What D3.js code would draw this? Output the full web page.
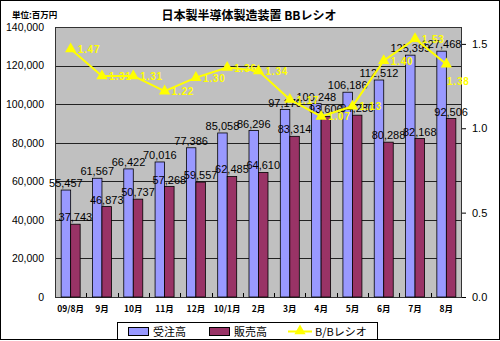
<!DOCTYPE html>
<html><head><meta charset="utf-8">
<script src="https://cdn.jsdelivr.net/npm/d3@7"></script>
<style>body{margin:0;background:#fff}svg{display:block}</style>
</head><body><svg id="c" width="500" height="341"></svg>
<script>
const categories = ["09/8月","9月","10月","11月","12月","10/1月","2月","3月","4月","5月","6月","7月","8月"];
const orders = [55457,61567,66422,70016,77386,85058,86296,97179,100248,106186,112512,125399,127468];
const sales  = [37743,46873,50737,57268,59557,62485,64610,83314,93606,94280,80288,82168,92506];
const ratio  = [1.47,1.31,1.31,1.22,1.30,1.36,1.34,1.17,1.07,1.13,1.40,1.53,1.38];
const leftTicks = [0,20000,40000,60000,80000,100000,120000,140000];
const rightTicks = [0,0.5,1.0,1.5];
const seriesNames = ["受注高","販売高","B/Bレシオ"];
const title = "日本製半導体製造装置 BBレシオ";
const unitLabel = "単位:百万円";

const svg = d3.select("#c");
const L=55, R=462, T=27, B=297;
const font = "'Liberation Sans', Arial, sans-serif";
const jfont = "'Noto Sans CJK JP', sans-serif";

svg.append("rect").attr("x",0.5).attr("y",0.5).attr("width",499).attr("height",339)
  .attr("fill","#fff").attr("stroke","#000");

const x = d3.scaleBand().domain(categories).range([L,R]).paddingInner(0).paddingOuter(0);
const y = d3.scaleLinear().domain([0,140000]).range([B,T]);
const y2 = d3.scaleLinear().domain([0,1.6]).range([B,T]);

svg.append("rect").attr("x",L).attr("y",T).attr("width",R-L).attr("height",B-T).attr("fill","#c0c0c0");
svg.append("g").selectAll("line").data(leftTicks).join("line")
  .attr("x1",L).attr("x2",R).attr("y1",d=>Math.round(y(d))+0.5).attr("y2",d=>Math.round(y(d))+0.5)
  .attr("stroke","#222").attr("stroke-width",1);
svg.append("rect").attr("x",L+0.5).attr("y",T+0.5).attr("width",R-L-1).attr("height",B-T)
  .attr("fill","none").attr("stroke","#333");

// left axis
const ax = d3.axisLeft(y).tickValues(leftTicks).tickSize(0).tickPadding(11).tickFormat(d3.format(","));
const gL = svg.append("g").attr("transform",`translate(${L},0)`).call(ax);
gL.select(".domain").remove();
gL.selectAll("text").attr("font-family",font).attr("font-size",10.5).attr("fill","#000");

// right axis
const ar = d3.axisRight(y2).tickValues(rightTicks).tickSize(4).tickPadding(6).tickFormat(d3.format(".1f"));
const gR = svg.append("g").attr("transform",`translate(${R},0)`).call(ar);
gR.select(".domain").remove();
gR.selectAll("line").attr("stroke","#000");
gR.selectAll("text").attr("font-family",font).attr("font-size",11).attr("fill","#000");

// bottom axis
const ab = d3.axisBottom(x).tickSize(0).tickPadding(9);
const gB = svg.append("g").attr("transform",`translate(0,${B})`).call(ab);
gB.select(".domain").remove();
gB.selectAll("text").attr("font-family",jfont).attr("font-weight","bold").attr("font-size",8.5).attr("fill","#000");
svg.append("g").selectAll("line").data(categories.slice(1)).join("line")
  .attr("x1",d=>Math.round(x(d))+0.5).attr("x2",d=>Math.round(x(d))+0.5).attr("y1",B).attr("y2",B-4)
  .attr("stroke","#000");

const bw = 9.5;
const off = (x.bandwidth()-2*bw)/2;
svg.append("g").selectAll("rect").data(orders).join("rect")
  .attr("x",(d,i)=>x(categories[i])+off).attr("y",d=>y(d)).attr("width",bw).attr("height",d=>B-y(d))
  .attr("fill","#9999ff").attr("stroke","#000").attr("stroke-width",0.8);
svg.append("g").selectAll("rect").data(sales).join("rect")
  .attr("x",(d,i)=>x(categories[i])+off+bw).attr("y",d=>y(d)).attr("width",bw).attr("height",d=>B-y(d))
  .attr("fill","#993366").attr("stroke","#000").attr("stroke-width",0.8);

// bar labels
svg.append("g").selectAll("text").data(orders).join("text")
  .attr("x",(d,i)=>x(categories[i])+off+bw/2).attr("y",d=>y(d)-3)
  .attr("text-anchor","middle").attr("font-family",font).attr("font-size",11).attr("fill","#000")
  .text(d3.format(","));
svg.append("g").selectAll("text").data(sales).join("text")
  .attr("x",(d,i)=>x(categories[i])+off+bw*1.5).attr("y",d=>y(d)-3)
  .attr("text-anchor","middle").attr("font-family",font).attr("font-size",11).attr("fill","#000")
  .text(d3.format(","));

// ratio line
const cx = i => x(categories[i])+x.bandwidth()/2;
const line = d3.line().x((d,i)=>cx(i)).y(d=>y2(d));
svg.append("path").datum(ratio).attr("d",line).attr("fill","none").attr("stroke","#ffff00").attr("stroke-width",2);
const tri = d3.symbol().type(d3.symbolTriangle).size(55);
svg.append("g").selectAll("path").data(ratio).join("path")
  .attr("transform",(d,i)=>`translate(${cx(i)},${y2(d)})`).attr("d",tri).attr("fill","#ffff00");
svg.append("g").selectAll("text").data(ratio).join("text")
  .attr("x",(d,i)=> i===ratio.length-1 ? cx(i)+12 : cx(i)+7)
  .attr("y",(d,i)=> i===ratio.length-1 ? y2(d)+21 : y2(d)+4)
  .attr("text-anchor",(d,i)=> i===ratio.length-1 ? "middle":"start")
  .attr("font-family",font).attr("font-weight","bold").attr("font-size",10).attr("fill","#ffff00")
  .attr("letter-spacing",0.8)
  .text(d=>d.toFixed(2));

// title
svg.append("text").attr("x",249).attr("y",20).attr("text-anchor","middle")
  .attr("font-family",jfont).attr("font-weight","bold").attr("font-size",12).attr("fill","#000").text(title);
svg.append("text").attr("x",12).attr("y",18)
  .attr("font-family",jfont).attr("font-weight","bold").attr("font-size",8.5).attr("fill","#000").text(unitLabel);

// legend
const lg = svg.append("g");
lg.append("rect").attr("x",117.5).attr("y",322.5).attr("width",260).attr("height",17).attr("fill","#fff").attr("stroke","#000");
const lx = [128,209,288];
lg.append("rect").attr("x",lx[0]+0.5).attr("y",327.5).attr("width",20).attr("height",8).attr("fill","#9999ff").attr("stroke","#000");
lg.append("rect").attr("x",lx[1]+0.5).attr("y",327.5).attr("width",20).attr("height",8).attr("fill","#993366").attr("stroke","#000");
lg.append("line").attr("x1",lx[2]).attr("x2",lx[2]+24).attr("y1",331.5).attr("y2",331.5).attr("stroke","#ffff00").attr("stroke-width",2);
lg.append("path").attr("transform",`translate(${lx[2]+12},331)`).attr("d",tri).attr("fill","#ffff00");
lg.selectAll("text.l").data(seriesNames).join("text")
  .attr("x",(d,i)=>[153,234,315][i]).attr("y",335.5)
  .attr("font-family",jfont).attr("font-size",11).attr("fill","#000").text(d=>d);
</script></body></html>
